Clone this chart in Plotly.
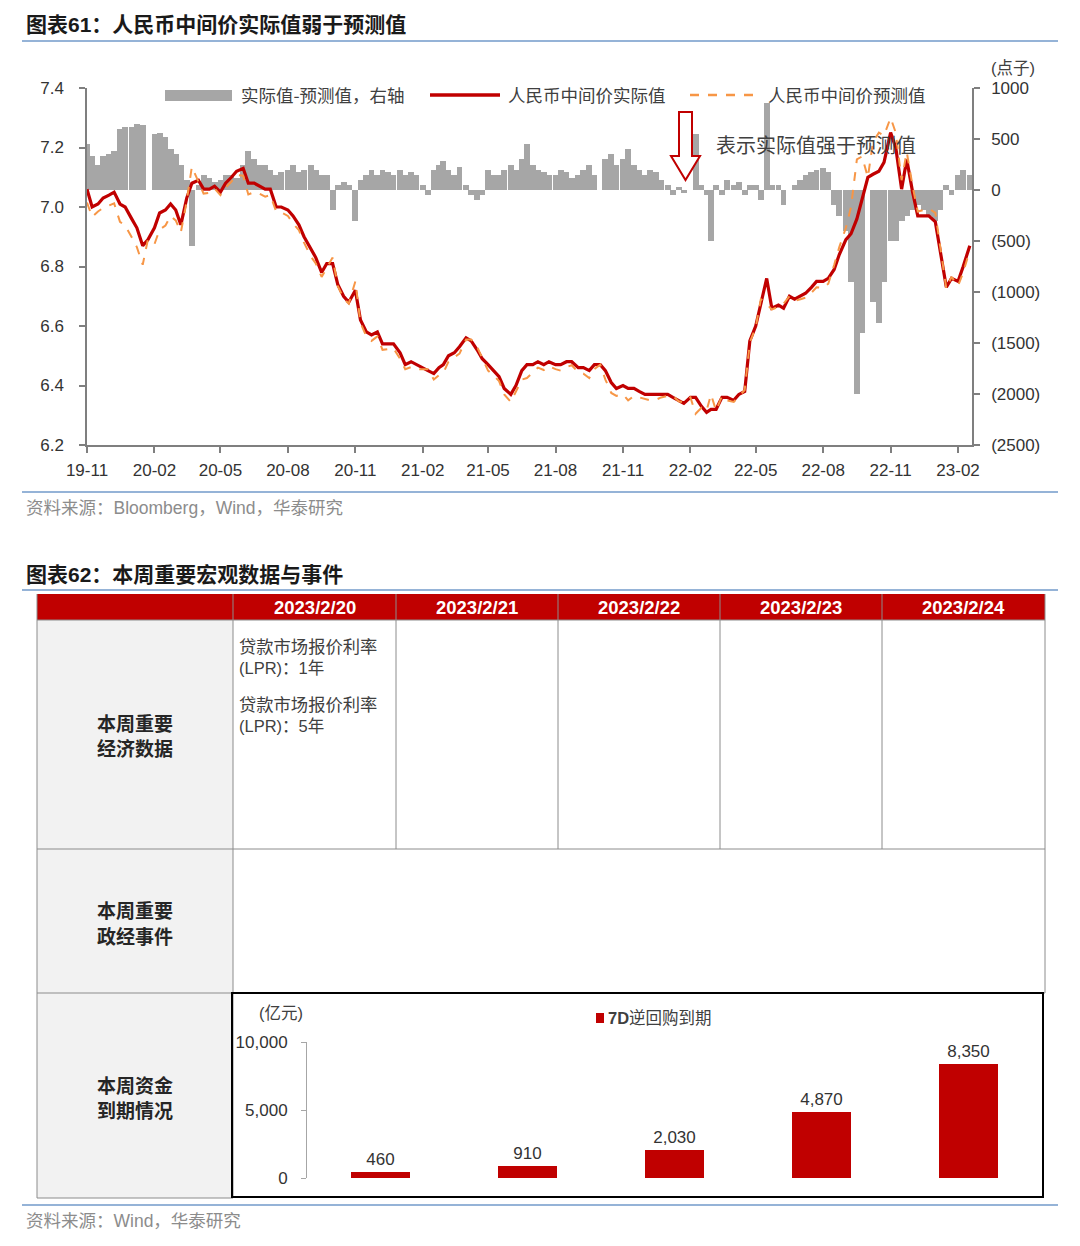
import plotly.graph_objects as go
import pandas as pd

# page is 1080x1246; the browser body adds an 8px margin, so the figure is 1064x1230
PAGE_W, PAGE_H = 1080, 1246
OFF = 8
W, H = PAGE_W - 2 * OFF, PAGE_H - 2 * OFF

# ---------------- data: chart 61 ----------------
months = pd.period_range('2019-11', '2023-02', freq='M')
sample_days = [1, 8, 16, 23]
last_days = [1, 8, 17]
dates61 = []
for m in months:
    ds = last_days if m == months[-1] else sample_days
    for d in ds:
        dates61.append(pd.Timestamp(year=m.year, month=m.month, day=d))

# 人民币中间价实际值
actual = [
    7.06, 7.00, 7.01, 7.03,   # 2019-11
    7.04, 7.05, 7.01, 7.00,   # 2019-12
    6.96, 6.93, 6.87, 6.89,   # 2020-01
    6.93, 6.98, 6.99, 7.01,   # 2020-02
    6.99, 6.94, 7.03, 7.08,   # 2020-03
    7.09, 7.06, 7.06, 7.07,   # 2020-04
    7.05, 7.08, 7.10, 7.12,   # 2020-05
    7.13, 7.08, 7.08, 7.07,   # 2020-06
    7.06, 7.06, 7.00, 7.00,   # 2020-07
    6.99, 6.97, 6.94, 6.90,   # 2020-08
    6.86, 6.83, 6.78, 6.81,   # 2020-09
    6.81, 6.74, 6.70, 6.68,   # 2020-10
    6.72, 6.62, 6.58, 6.57,   # 2020-11
    6.58, 6.54, 6.54, 6.54,   # 2020-12
    6.51, 6.47, 6.48, 6.47,   # 2021-01
    6.46, 6.45, 6.44, 6.46,   # 2021-02
    6.47, 6.50, 6.51, 6.53,   # 2021-03
    6.56, 6.55, 6.52, 6.49,   # 2021-04
    6.47, 6.45, 6.43, 6.39,   # 2021-05
    6.37, 6.40, 6.45, 6.47,   # 2021-06
    6.47, 6.48, 6.47, 6.48,   # 2021-07
    6.47, 6.47, 6.48, 6.48,   # 2021-08
    6.46, 6.46, 6.45, 6.47,   # 2021-09
    6.47, 6.45, 6.41, 6.39,   # 2021-10
    6.40, 6.39, 6.39, 6.38,   # 2021-11
    6.37, 6.37, 6.37, 6.37,   # 2021-12
    6.37, 6.36, 6.35, 6.34,   # 2022-01
    6.36, 6.36, 6.33, 6.31,   # 2022-02
    6.32, 6.32, 6.36, 6.36,   # 2022-03
    6.35, 6.37, 6.38, 6.55,   # 2022-04
    6.60, 6.68, 6.76, 6.66,   # 2022-05
    6.67, 6.66, 6.70, 6.69,   # 2022-06
    6.70, 6.71, 6.73, 6.75,   # 2022-07
    6.75, 6.76, 6.79, 6.84,   # 2022-08
    6.89, 6.91, 6.96, 7.03,   # 2022-09
    7.10, 7.11, 7.12, 7.15,   # 2022-10
    7.25, 7.20, 7.06, 7.16,   # 2022-11
    7.05, 6.97, 6.97, 6.97,   # 2022-12
    6.95, 6.84, 6.73, 6.76,   # 2023-01
    6.75, 6.80, 6.87,         # 2023-02
]

# 人民币中间价预测值
forecast = [
    7.015, 6.967, 6.985, 6.997,   # 2019-11
    7.005, 7.012, 6.950, 6.938,   # 2019-12
    6.898, 6.865, 6.806, 6.890,   # 2020-01
    6.875, 6.924, 6.938, 6.970,   # 2020-02
    6.955, 6.915, 7.020, 7.135,   # 2020-03
    7.085, 7.045, 7.048, 7.062,   # 2020-04
    7.040, 7.065, 7.085, 7.108,   # 2020-05
    7.105, 7.042, 7.050, 7.045,   # 2020-06
    7.035, 7.040, 6.985, 6.982,   # 2020-07
    6.970, 6.945, 6.922, 6.880,   # 2020-08
    6.835, 6.810, 6.765, 6.795,   # 2020-09
    6.830, 6.735, 6.692, 6.675,   # 2020-10
    6.750, 6.610, 6.565, 6.550,   # 2020-11
    6.565, 6.520, 6.522, 6.525,   # 2020-12
    6.490, 6.455, 6.462, 6.455,   # 2021-01
    6.455, 6.455, 6.420, 6.435,   # 2021-02
    6.442, 6.480, 6.495, 6.507,   # 2021-03
    6.555, 6.555, 6.530, 6.495,   # 2021-04
    6.450, 6.435, 6.415, 6.370,   # 2021-05
    6.345, 6.380, 6.420, 6.425,   # 2021-06
    6.445, 6.460, 6.452, 6.465,   # 2021-07
    6.455, 6.450, 6.462, 6.468,   # 2021-08
    6.445, 6.440, 6.425, 6.455,   # 2021-09
    6.470, 6.420, 6.375, 6.365,   # 2021-10
    6.370, 6.350, 6.365, 6.360,   # 2021-11
    6.355, 6.350, 6.352, 6.360,   # 2021-12
    6.365, 6.365, 6.347, 6.343,   # 2022-01
    6.360, 6.305, 6.325, 6.315,   # 2022-02
    6.370, 6.315, 6.365, 6.350,   # 2022-03
    6.345, 6.362, 6.385, 6.545,   # 2022-04
    6.595, 6.690, 6.675, 6.655,   # 2022-05
    6.665, 6.675, 6.700, 6.685,   # 2022-06
    6.690, 6.695, 6.712, 6.730,   # 2022-07
    6.728, 6.742, 6.805, 6.865,   # 2022-08
    6.930, 7.000, 7.160, 7.170,   # 2022-09
    7.100, 7.220, 7.250, 7.240,   # 2022-10
    7.300, 7.250, 7.090, 7.185,   # 2022-11
    7.070, 6.985, 6.990, 6.995,   # 2022-12
    6.980, 6.860, 6.725, 6.765,   # 2023-01
    6.735, 6.780, 6.855,          # 2023-02
]

# 实际值-预测值（点子，右轴）
diff = [
    450, 330, 250, 330,         # 2019-11
    350, 380, 600, 620,         # 2019-12
    620, 650, 640, 0,           # 2020-01
    550, 560, 520, 400,         # 2020-02
    350, 250, 100, -550,        # 2020-03
    50, 150, 120, 80,           # 2020-04
    100, 150, 150, 120,         # 2020-05
    250, 380, 300, 250,         # 2020-06
    250, 200, 150, 180,         # 2020-07
    200, 250, 180, 200,         # 2020-08
    250, 200, 150, 150,         # 2020-09
    -200, 50, 80, 50,           # 2020-10
    -300, 100, 150, 200,        # 2020-11
    150, 200, 180, 150,         # 2020-12
    200, 150, 180, 150,         # 2021-01
    50, -50, 200, 250,          # 2021-02
    280, 200, 150, 230,         # 2021-03
    50, -50, -100, -50,         # 2021-04
    200, 150, 150, 200,         # 2021-05
    250, 200, 300, 450,         # 2021-06
    250, 200, 180, 150,         # 2021-07
    150, 200, 180, 120,         # 2021-08
    150, 200, 250, 150,         # 2021-09
    0, 300, 350, 250,           # 2021-10
    300, 400, 250, 200,         # 2021-11
    150, 200, 180, 100,         # 2021-12
    50, -50, 30, -30,           # 2022-01
    0, 550, 50, -50,            # 2022-02
    -500, 50, -50, 100,         # 2022-03
    50, 80, -50, 50,            # 2022-04
    50, -100, 850, 50,          # 2022-05
    50, -150, 0, 50,            # 2022-06
    100, 150, 180, 200,         # 2022-07
    220, 180, -150, -250,       # 2022-08
    -400, -900, -2000, -1400,   # 2022-09
    0, -1100, -1300, -900,      # 2022-10
    -500, -500, -300, -250,     # 2022-11
    -200, -150, -200, -250,     # 2022-12
    -300, -200, 50, -50,        # 2023-01
    150, 200, 150,              # 2023-02
]
assert len(actual) == len(dates61) == len(forecast) == len(diff)

x_tick_dates = list(pd.date_range('2019-11-01', '2023-02-01', freq='3MS'))
x_tick_labels = [d.strftime('%y-%m') for d in x_tick_dates]
left_ticks = [6.2, 6.4, 6.6, 6.8, 7.0, 7.2, 7.4]
right_ticks = [-2500, -2000, -1500, -1000, -500, 0, 500, 1000]
right_tick_labels = ['(2500)', '(2000)', '(1500)', '(1000)', '(500)', '0', '500', '1000']

# ---------------- data: chart 62 ----------------
days62 = ['2023/2/20', '2023/2/21', '2023/2/22', '2023/2/23', '2023/2/24']
repo_maturity = [460, 910, 2030, 4870, 8350]   # 7D逆回购到期（亿元）
bar_ticks = [0, 5000, 10000]
bar_tick_labels = ['0', '5,000', '10,000']


# ---------------- helpers (page pixel -> paper) ----------------
def X(px):
    return (px - OFF) / W


def Y(py):
    return 1 - (py - OFF) / H


CJK = 'Noto Sans CJK SC'
MIX = 'Liberation Sans, Noto Sans CJK SC'
annotations = []
shapes = []


def ann(text, px, py, size=16, color='#333333', xanchor='left', family=MIX):
    annotations.append(dict(text=text, x=X(px), y=Y(py), xref='paper', yref='paper',
                            xanchor=xanchor, yanchor='middle', showarrow=False,
                            font=dict(size=size, color=color, family=family)))


def rect(x0, y0, x1, y1, fill, line_color=None, lw=0, layer='below'):
    shapes.append(dict(type='rect', xref='paper', yref='paper',
                       x0=X(x0), x1=X(x1), y0=Y(y1), y1=Y(y0),
                       fillcolor=fill, layer=layer,
                       line=dict(color=line_color or fill, width=lw)))


def hline(x0, x1, y, color, lw=1, dash='solid', layer='above'):
    shapes.append(dict(type='line', xref='paper', yref='paper',
                       x0=X(x0), x1=X(x1), y0=Y(y), y1=Y(y), layer=layer,
                       line=dict(color=color, width=lw, dash=dash)))


def vline(x, y0, y1, color, lw=1, layer='above'):
    shapes.append(dict(type='line', xref='paper', yref='paper',
                       x0=X(x), x1=X(x), y0=Y(y0), y1=Y(y1), layer=layer,
                       line=dict(color=color, width=lw)))


SEC = '#95B3D7'

# ---------------- figure ----------------
fig = go.Figure()

fig.add_trace(go.Bar(x=dates61, y=diff, xaxis='x', yaxis='y',
                     marker=dict(color='#A6A6A6', line=dict(width=0)),
                     width=8 * 86400000, showlegend=False, hoverinfo='skip'))
fig.add_trace(go.Scatter(x=dates61, y=actual, xaxis='x', yaxis='y2', mode='lines',
                         line=dict(color='#C00000', width=3.2), showlegend=False))
fig.add_trace(go.Scatter(x=dates61, y=forecast, xaxis='x', yaxis='y2', mode='lines',
                         line=dict(color='#F79646', width=2, dash='dash'), showlegend=False))

fig.add_trace(go.Bar(x=days62, y=repo_maturity, xaxis='x2', yaxis='y3',
                     marker=dict(color='#C00000', line=dict(width=0)), width=0.4,
                     text=[f'{v:,}' for v in repo_maturity], textposition='outside',
                     textfont=dict(size=17, color='#333333', family='Liberation Sans'),
                     cliponaxis=False, showlegend=False))

# ---- section frame / titles ----
ann('<b>图表61：人民币中间价实际值弱于预测值</b>', 24, 25, size=21, color='#1a1a1a')
hline(22, 1058, 41, SEC, 2)
hline(22, 1058, 492, SEC, 2)
ann('资料来源：Bloomberg，Wind，华泰研究', 24, 508, size=17.5, color='#8c8c8c')
ann('<b>图表62：本周重要宏观数据与事件</b>', 24, 574, size=21, color='#1a1a1a')
hline(22, 1058, 590, SEC, 2)
hline(22, 1058, 1205, SEC, 2)
ann('资料来源：Wind，华泰研究', 24, 1221, size=17.5, color='#8c8c8c')

# ---- chart 61 legend & notes ----
rect(165, 90, 232, 101, '#A6A6A6', layer='above')
ann('实际值-预测值，右轴', 239, 95, size=17.5, color='#404040', family=CJK)
hline(430, 500, 95, '#C00000', 3.5)
ann('人民币中间价实际值', 506, 95, size=17.5, color='#404040', family=CJK)
hline(690, 760, 95, '#F79646', 2.5, dash='dash')
ann('人民币中间价预测值', 766, 95, size=17.5, color='#404040', family=CJK)
ann('(点子)', 1013, 68, size=16.5, color='#404040', xanchor='center')
ann('表示实际值强于预测值', 816, 145, size=20, color='#404040', xanchor='center', family=CJK)

arrow_px = [(679, 112), (692, 112), (692, 156), (700, 156), (685.5, 180), (671, 156), (679, 156)]
path = 'M ' + ' L '.join(f'{X(a):.5f},{Y(b):.5f}' for a, b in arrow_px) + ' Z'
shapes.append(dict(type='path', xref='paper', yref='paper', path=path,
                   fillcolor='white', line=dict(color='#C00000', width=2), layer='above'))

# ---- table ----
GRID = '#8c8c8c'
col_edges = [37, 233, 396, 558, 720, 882, 1045]
rect(37, 594, 1045, 620, '#C00000', layer='below')
rect(37, 620, 233, 1198, '#F2F2F2', layer='below')
for i, d in enumerate(days62):
    cx = (col_edges[i + 1] + col_edges[i + 2]) / 2
    ann(f'<b>{d}</b>', cx, 607, size=18.5, color='white', xanchor='center', family='Liberation Sans')
# grid lines
vline(37, 594, 1198, GRID)
vline(1045, 594, 993, GRID)
vline(233, 594, 1198, GRID)
for xe in col_edges[2:6]:
    vline(xe, 594, 849, GRID)
hline(37, 1045, 620, GRID)
hline(37, 1045, 849, GRID)
hline(37, 233, 993, GRID)
hline(233, 1045, 993, GRID)
hline(37, 233, 1198, GRID)
# chart frame
shapes.append(dict(type='rect', xref='paper', yref='paper', x0=X(232), x1=X(1043),
                   y0=Y(1197), y1=Y(993), line=dict(color='#000000', width=2),
                   fillcolor='rgba(0,0,0,0)', layer='above'))

for txt, yy in [('本周重要', 722), ('经济数据', 747), ('本周重要', 910),
                ('政经事件', 935), ('本周资金', 1084), ('到期情况', 1109)]:
    ann(f'<b>{txt}</b>', 135, yy, size=19, color='#262626', xanchor='center', family=CJK)

ann('贷款市场报价利率', 237, 645, size=17.3, color='#404040', family=CJK)
ann('(LPR)：1年', 237, 668, size=16.5, color='#404040')
ann('贷款市场报价利率', 237, 703, size=17.3, color='#404040', family=CJK)
ann('(LPR)：5年', 237, 726, size=16.5, color='#404040')

# chart 62 legend / unit
ann('(亿元)', 281, 1013, size=16.5, color='#404040', xanchor='center')
rect(596, 1013, 604, 1023, '#C00000', layer='above')
ann('<b>7D</b>逆回购到期', 606, 1018, size=16.5, color='#404040')

tickfont = dict(size=17, color='#333333', family='Liberation Sans')
fig.update_layout(
    width=W, height=H, margin=dict(l=0, r=0, t=0, b=0, pad=0, autoexpand=False),
    paper_bgcolor='white', plot_bgcolor='rgba(0,0,0,0)',
    bargap=0, showlegend=False,
    xaxis=dict(domain=[X(87), X(972)], anchor='y', type='date',
               range=['2019-11-01', '2023-02-20'],
               tickvals=x_tick_dates, ticktext=x_tick_labels,
               showline=True, linecolor='#7f7f7f', linewidth=1.5,
               ticks='outside', ticklen=6, tickcolor='#7f7f7f', tickwidth=1.5,
               tickfont=tickfont, showgrid=False, zeroline=False, ticklabelstandoff=3,
               automargin=False),
    yaxis=dict(domain=[Y(445), Y(88)], anchor='x', side='right',
               range=[-2500, 1000], tickvals=right_ticks, ticktext=right_tick_labels,
               showline=True, linecolor='#7f7f7f', linewidth=1.5,
               ticks='outside', ticklen=6, tickcolor='#7f7f7f', tickwidth=1.5,
               tickfont=tickfont, showgrid=False, zeroline=False, ticklabelstandoff=8,
               automargin=False),
    yaxis2=dict(overlaying='y', side='left', anchor='x', range=[6.2, 7.4],
                tickvals=left_ticks, tickformat='.1f',
                showline=True, linecolor='#7f7f7f', linewidth=1.5,
                ticks='outside', ticklen=6, tickcolor='#7f7f7f', tickwidth=1.5,
                tickfont=tickfont, showgrid=False, zeroline=False, ticklabelstandoff=12,
                automargin=False),
    xaxis2=dict(domain=[X(307), X(1042)], anchor='y3', range=[-0.5, 4.5],
                visible=False, type='category', automargin=False),
    yaxis3=dict(domain=[Y(1178), Y(1042)], anchor='x2', range=[0, 10000],
                tickvals=bar_ticks, ticktext=bar_tick_labels,
                showline=True, linecolor='#a6a6a6', linewidth=1,
                ticks='outside', ticklen=5, tickcolor='#a6a6a6',
                tickfont=tickfont, showgrid=False, zeroline=False, ticklabelstandoff=10,
                automargin=False),
    annotations=annotations, shapes=shapes,
)

fig.write_html('out.html')
